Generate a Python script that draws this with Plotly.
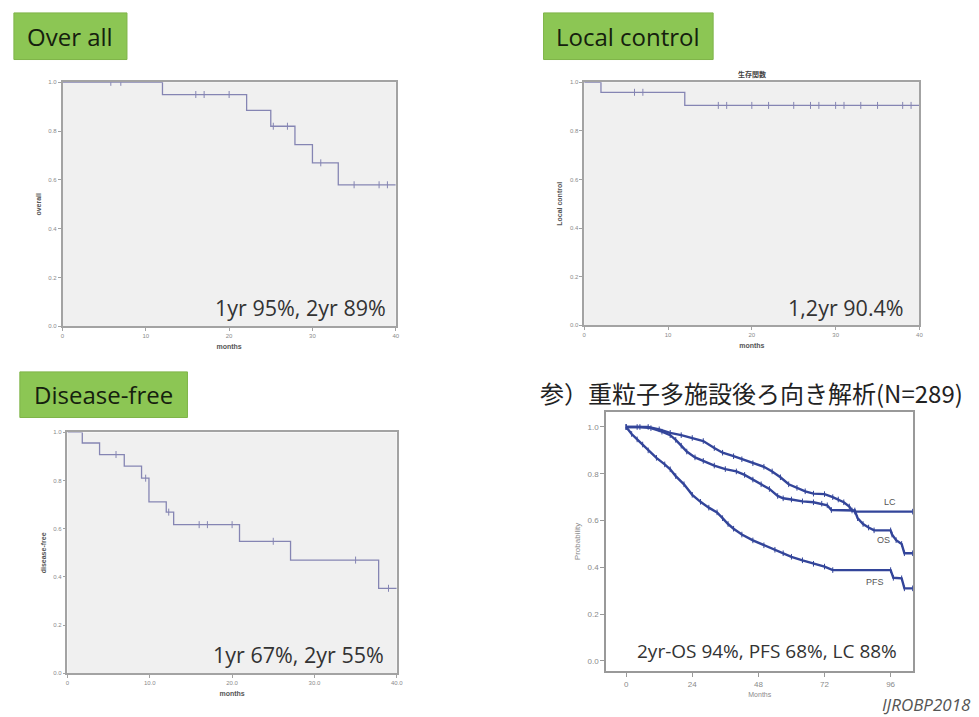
import numpy as np
import plotly.graph_objects as go

W, H = 979, 717

# ---------------- data ----------------
# Panel 1: Over all (KM steps)
os_t = [0, 12, 22.1, 25, 27.9, 30, 33.1, 40]
os_s = [1.0, 0.95, 0.885, 0.82, 0.745, 0.67, 0.58, 0.58]
os_cens = [5.8, 7, 16, 17, 20, 25.3, 27, 31, 35, 38, 39]

# Panel 2: Local control
lc_t = [0, 2, 12, 40]
lc_s = [1.0, 0.959, 0.905, 0.905]
lc_cens = [6, 7, 16, 17, 20, 22, 25, 27, 28, 30, 31, 33, 35, 38, 39]

# Panel 3: Disease-free
df_t = [0, 1.8, 3.9, 6.9, 9.0, 9.9, 12.0, 12.9, 20.9, 27.1, 37.8, 40]
df_s = [1.0, 0.956, 0.908, 0.86, 0.81, 0.712, 0.669, 0.617, 0.548, 0.47, 0.353, 0.353]
df_cens = [5.9, 9.5, 12.3, 16, 17, 20, 25, 35, 39]

# Panel 4: multi-institution (N=289)
m_lc_t = [0, 4, 8, 12, 16, 20, 24, 28, 32, 35, 39, 42, 46, 50, 53, 56, 59, 62, 65, 68, 72, 75, 77, 79, 81, 82, 83, 104]
m_lc_s = [1.0, 1.0, 1.0, 0.99, 0.975, 0.965, 0.953, 0.94, 0.91, 0.89, 0.875, 0.862, 0.845, 0.83, 0.81, 0.785,
          0.755, 0.74, 0.725, 0.715, 0.713, 0.70, 0.69, 0.678, 0.66, 0.643, 0.638, 0.638]
m_os_t = [0, 5, 9, 13, 16, 18, 20, 22, 25, 28, 32, 36, 40, 43, 46, 49, 52, 55, 57, 60, 64, 68, 71, 73, 74.5,
          83, 84, 86, 88, 90, 96, 96.5, 98, 100, 101, 104]
m_os_s = [1.0, 1.0, 0.995, 0.98, 0.965, 0.945, 0.92, 0.895, 0.87, 0.855, 0.835, 0.82, 0.81, 0.795, 0.775, 0.755,
          0.735, 0.705, 0.695, 0.69, 0.682, 0.678, 0.672, 0.665, 0.645, 0.643, 0.61, 0.585, 0.57, 0.558, 0.558,
          0.54, 0.516, 0.5, 0.46, 0.46]
m_pfs_t = [0, 2, 4, 6, 8, 11, 14, 16, 18, 21, 24, 27, 30, 33, 35, 37, 39, 42, 46, 50, 54, 57, 60, 64, 68, 72,
           75, 96, 97, 100, 101, 104]
m_pfs_s = [1.0, 0.97, 0.947, 0.925, 0.9, 0.868, 0.84, 0.819, 0.79, 0.755, 0.71, 0.68, 0.655, 0.635, 0.61, 0.585,
           0.565, 0.54, 0.515, 0.494, 0.475, 0.46, 0.445, 0.43, 0.415, 0.403, 0.388, 0.388, 0.355, 0.353, 0.31, 0.31]

y_ticks = [0.0, 0.2, 0.4, 0.6, 0.8, 1.0]
y_ticklabels = ["0.0", "0.2", "0.4", "0.6", "0.8", "1.0"]
x_ticks_40 = [0, 10, 20, 30, 40]
x_ticklabels_a = ["0", "10", "20", "30", "40"]
x_ticklabels_b = ["0", "10.0", "20.0", "30.0", "40.0"]
x_ticks_96 = [0, 24, 48, 72, 96]

# ---------------- layout helpers ----------------
def dom_x(a, b):
    return [a / W, b / W]

def dom_y(top, bottom):
    return [1 - bottom / H, 1 - top / H]

KM_COLOR = "#8585b3"
M_COLOR = "#33459a"
AX_COLOR = "#a3a3a3"

def step_y(times, surv, cens):
    idx = np.searchsorted(np.array(times), np.array(cens), side="right") - 1
    return [surv[i] for i in idx]

fig = go.Figure()

panels = [
    (os_t, os_s, os_cens, "x", "y"),
    (lc_t, lc_s, lc_cens, "x2", "y2"),
    (df_t, df_s, df_cens, "x3", "y3"),
]
for t, s, c, xa, ya in panels:
    fig.add_trace(go.Scatter(x=t, y=s, mode="lines", line=dict(color=KM_COLOR, width=1.3, shape="hv"),
                             xaxis=xa, yaxis=ya, showlegend=False, hoverinfo="skip"))
    fig.add_trace(go.Scatter(x=c, y=step_y(t, s, c), mode="markers",
                             marker=dict(symbol="line-ns-open", size=5, color=KM_COLOR,
                                         line=dict(color=KM_COLOR, width=1)),
                             xaxis=xa, yaxis=ya, showlegend=False, hoverinfo="skip"))

for t, s in [(m_lc_t, m_lc_s), (m_os_t, m_os_s), (m_pfs_t, m_pfs_s)]:
    fig.add_trace(go.Scatter(x=t, y=s, mode="lines+markers", line=dict(color=M_COLOR, width=2.4),
                             marker=dict(symbol="line-ns-open", size=4, color=M_COLOR,
                                         line=dict(color=M_COLOR, width=1)),
                             xaxis="x4", yaxis="y4", showlegend=False, hoverinfo="skip"))

tickf = dict(size=6, color="#8a8a8a", family="Liberation Sans")
titlef = dict(size=7, color="#555555", family="Liberation Sans")

def km_axes(xdom, ydom, anchor_x, anchor_y, xlabels, ytitle):
    xa = dict(domain=xdom, anchor=anchor_y, range=[0, 40], tickvals=x_ticks_40, ticktext=xlabels,
              ticks="outside", ticklen=3, tickcolor=AX_COLOR, showline=True, linecolor=AX_COLOR, linewidth=1.5,
              mirror=True, showgrid=False, zeroline=False, tickfont=tickf,
              title=dict(text="<b>months</b>", font=titlef, standoff=6), fixedrange=True)
    ya = dict(domain=ydom, anchor=anchor_x, range=[0, 1.0], tickvals=y_ticks, ticktext=y_ticklabels,
              ticks="outside", ticklen=3, tickcolor=AX_COLOR, showline=True, linecolor=AX_COLOR, linewidth=1.5,
              mirror=True, showgrid=False, zeroline=False, tickfont=tickf,
              title=dict(text="<b>" + ytitle + "</b>", font=titlef, standoff=6), fixedrange=True)
    return xa, ya

x1, y1 = km_axes(dom_x(61, 397), dom_y(80, 326), "x", "y", x_ticklabels_a, "overall")
x2, y2 = km_axes(dom_x(587, 925), dom_y(80, 325), "x2", "y2", x_ticklabels_a, "Local control")
x3, y3 = km_axes(dom_x(66, 398), dom_y(433, 676), "x3", "y3", x_ticklabels_b, "disease-free")

x4 = dict(domain=dom_x(609, 919), anchor="y4", range=[-7.3, 104.3], tickvals=x_ticks_96,
          ticktext=[str(v) for v in x_ticks_96], ticks="outside", ticklen=4, tickcolor="#999999",
          showline=True, linecolor="#999999", linewidth=1.5, mirror=True, showgrid=False, zeroline=False,
          tickfont=dict(size=8, color="#8a8a8a", family="Liberation Sans"),
          title=dict(text="Months", font=dict(size=7, color="#8a8a8a", family="Liberation Sans"), standoff=4),
          fixedrange=True)
y4 = dict(domain=dom_y(412, 674), anchor="x4", range=[-0.045, 1.066], tickvals=y_ticks, ticktext=y_ticklabels,
          ticks="outside", ticklen=4, tickcolor="#999999", showline=True, linecolor="#999999", linewidth=1.5,
          mirror=True, showgrid=False, zeroline=False,
          tickfont=dict(size=8, color="#8a8a8a", family="Liberation Sans"),
          title=dict(text="Probability", font=dict(size=8, color="#8a8a8a", family="Liberation Sans"), standoff=6),
          fixedrange=True)

shapes = []
for xr, yr in [("x", "y"), ("x2", "y2"), ("x3", "y3")]:
    shapes.append(dict(type="rect", xref=xr + " domain", yref=yr + " domain", x0=0, x1=1, y0=0, y1=1,
                       fillcolor="#f0f0f0", line=dict(width=0), layer="below"))

GREEN = "#8cc654"
boxes = [(12, 126, 10, 57, "Over all"), (546, 717, 10, 57, "Local control"), (18, 187, 372, 418, "Disease-free")]
annotations = []
for x0, x1b, yt, yb, txt in boxes:
    shapes.append(dict(type="rect", xref="paper", yref="paper", x0=x0 / W, x1=x1b / W, y0=1 - yb / H, y1=1 - yt / H,
                       fillcolor=GREEN, line=dict(color="#7fb449", width=1), layer="above"))
    annotations.append(dict(text=txt, x=(x0 + x1b) / 2 / W, y=1 - (yt + yb) / 2 / H, xref="paper", yref="paper",
                            showarrow=False, xanchor="center", yanchor="middle",
                            font=dict(size=24, color="#15200e", family="Open Sans")))

big_font = dict(size=21.5, color="#333333", family="Open Sans")
annotations += [
    dict(text="1yr 95%, 2yr 89%", x=389 / W, y=1 - 307 / H, xref="paper", yref="paper", showarrow=False,
         xanchor="right", yanchor="middle", font=big_font),
    dict(text="1,2yr 90.4%", x=911 / W, y=1 - 307 / H, xref="paper", yref="paper", showarrow=False,
         xanchor="right", yanchor="middle", font=big_font),
    dict(text="1yr 67%, 2yr 55%", x=387 / W, y=1 - 657 / H, xref="paper", yref="paper", showarrow=False,
         xanchor="right", yanchor="middle", font=big_font),
    dict(text="2yr-OS 94%, PFS 68%, LC 88%", x=771 / W, y=1 - 653 / H, xref="paper", yref="paper",
         showarrow=False, xanchor="center", yanchor="middle", font=dict(size=19, color="#333333", family="Open Sans")),
    dict(text="参）重粒子多施設後ろ向き解析(N=289)", x=540 / W, y=1 - 393 / H, xref="paper", yref="paper",
         showarrow=False, xanchor="left", yanchor="middle",
         font=dict(size=24, color="#222222", family="Noto Sans CJK JP")),
    dict(text="<b>生存関数</b>", x=756 / W, y=1 - 72 / H, xref="paper", yref="paper", showarrow=False,
         xanchor="center", yanchor="middle", font=dict(size=7, color="#444444", family="Noto Sans CJK JP")),
    dict(text="<i>IJROBP2018</i>", x=979 / W, y=1 - 707 / H, xref="paper", yref="paper", showarrow=False,
         xanchor="right", yanchor="middle", font=dict(size=17, color="#555555", family="Open Sans")),
    dict(text="LC", x=95.7, y=0.678, xref="x4", yref="y4", showarrow=False,
         font=dict(size=9, color="#555555", family="Liberation Sans")),
    dict(text="OS", x=93.3, y=0.516, xref="x4", yref="y4", showarrow=False,
         font=dict(size=9, color="#555555", family="Liberation Sans")),
    dict(text="PFS", x=90.3, y=0.339, xref="x4", yref="y4", showarrow=False,
         font=dict(size=9, color="#555555", family="Liberation Sans")),
]

fig.update_layout(
    width=W, height=H, autosize=False, margin=dict(l=0, r=0, t=0, b=0),
    paper_bgcolor="white", plot_bgcolor="white",
    xaxis=x1, yaxis=y1, xaxis2=x2, yaxis2=y2, xaxis3=x3, yaxis3=y3, xaxis4=x4, yaxis4=y4,
    shapes=shapes, annotations=annotations, showlegend=False,
)

fig.write_html("out.html", config={"displayModeBar": False})
